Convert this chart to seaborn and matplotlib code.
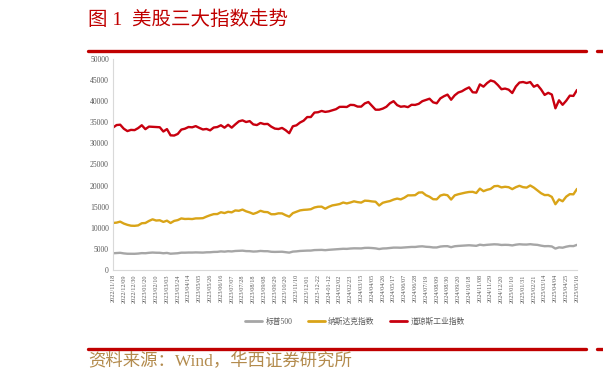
"""
美股三大指数走势 (周度收盘), 2022/11/18 - 2025/05/16
"""
import matplotlib
matplotlib.use("Agg")
import matplotlib.pyplot as plt
from matplotlib.lines import Line2D
import pandas as pd
import seaborn as sns

# 周度收盘价 (2024/09/27 一周缺失)
sp500 = [
    3965, 4026, 4072, 3934, 3852, 3845, 3840, 3895, 3999, 3973, 4071, 4136, 4090, 4079, 3970,
    4046, 3862, 3917, 3971, 4109, 4105, 4138, 4133, 4169, 4136, 4124, 4192, 4205, 4282, 4299,
    4410, 4348, 4450, 4399, 4505, 4536, 4582, 4478, 4464, 4370, 4406, 4515, 4457, 4450, 4320,
    4288, 4309, 4327, 4224, 4117, 4358, 4415, 4514, 4559, 4595, 4604, 4719, 4754, 4770, 4697,
    4784, 4840, 4891, 4959, 5027, 5006, 5089, 5137, 5124, 5117, 5234, 5254, 5204, 5123, 4967,
    5100, 5128, 5223, 5304, 5305, 5278, 5347, 5432, 5465, 5460, 5567, 5615, 5505, 5459, 5346,
    5344, 5554, 5634, 5648, 5408, 5626, 5703, 5751, 5815, 5864, 5808, 5729, 5996, 5871, 5969,
    6032, 6090, 6051, 5931, 5971, 5942, 5827, 5997, 6101, 6041, 6026, 6115, 6013, 5955, 5770,
    5639, 5668, 5581, 5074, 5363, 5283, 5525, 5687, 5660, 5958,
]
nasdaq = [
    11146, 11226, 11461, 11005, 10705, 10498, 10466, 10569, 11079, 11140, 11622, 12007, 11718,
    11787, 11395, 11689, 11138, 11631, 11824, 12222, 12088, 12123, 12072, 12227, 12235, 12284,
    12658, 12976, 13241, 13259, 13689, 13492, 13788, 13661, 14113, 14032, 14317, 13909, 13645,
    13291, 13590, 14031, 13762, 13708, 13212, 13219, 13431, 13407, 12984, 12643, 13478, 13798,
    14125, 14250, 14305, 14404, 14813, 14992, 15011, 14524, 14973, 15311, 15455, 15629, 15990,
    15776, 15997, 16275, 16085, 15973, 16429, 16379, 16249, 16175, 15282, 15928, 16156, 16341,
    16686, 16921, 16735, 17133, 17689, 17690, 17733, 18353, 18398, 17727, 17358, 16776, 16745,
    17631, 17878, 17714, 16691, 17684, 17948, 18138, 18343, 18490, 18519, 18240, 19287, 18680,
    19004, 19218, 19860, 19927, 19573, 19722, 19622, 19162, 19630, 19954, 19627, 19524, 20027,
    19524, 18847, 18197, 17754, 17784, 17323, 15588, 16724, 16286, 17383, 17978, 17929, 19211,
]
dow = [
    33746, 34347, 34430, 33476, 32920, 33204, 33147, 33631, 34303, 33375, 33978, 33926, 33869,
    33827, 32817, 33391, 31910, 31862, 32238, 33274, 33485, 33886, 33809, 34098, 33674, 33300,
    33427, 33093, 33762, 33877, 34299, 33727, 34408, 33734, 34509, 35228, 35459, 35066, 35281,
    34501, 34346, 34838, 34577, 34618, 33964, 33507, 33407, 33670, 33127, 32418, 34061, 34283,
    34947, 35390, 36245, 36247, 37305, 37385, 37690, 37466, 37593, 37863, 38109, 38654, 38671,
    38628, 39131, 39087, 38723, 38715, 39475, 39807, 38904, 37983, 37986, 38240, 38676, 39513,
    40004, 39070, 38686, 38799, 38589, 39150, 39119, 39376, 40001, 40288, 40589, 39737, 39498,
    40660, 41175, 41563, 40345, 41394, 42063, 42352, 42864, 43276, 42114, 42052, 43989, 43445,
    44297, 44911, 44643, 43828, 42840, 42992, 42732, 41938, 43488, 44424, 44545, 44303, 44546,
    43428, 43841, 42802, 41488, 41985, 41583, 38315, 40213, 39142, 40113, 41317, 41249, 42655,
]

tick_labels = [
    "2022/11/18", "2022/12/09", "2022/12/30", "2023/01/20", "2023/02/10", "2023/03/03",
    "2023/03/24", "2023/04/14", "2023/05/05", "2023/05/26", "2023/06/16", "2023/07/07",
    "2023/07/28", "2023/08/18", "2023/09/08", "2023/09/29", "2023/10/20", "2023/11/10",
    "2023/12/01", "2023-12-22", "2024-01-12", "2024/02/02", "2024/02/23", "2024/03/15",
    "2024/04/05", "2024/04/26", "2024/05/17", "2024/06/07", "2024/06/28", "2024/07/19",
    "2024/08/09", "2024/08/30", "2024/09/20", "2024/10/18", "2024/11/08", "2024/11/29",
    "2024/12/20", "2025/01/10", "2025/01/31", "2025/02/21", "2025/03/14", "2025/04/04",
    "2025/04/25", "2025/05/16",
]

series_names = ["标普500", "纳斯达克指数", "道琼斯工业指数"]
colors = ["#a6a6a6", "#d9a418", "#c8000f"]

# 长表
n = len(dow)
df = pd.concat([
    pd.DataFrame({"idx": range(n), "value": vals, "指数": name})
    for name, vals in zip(series_names, [sp500, nasdaq, dow])
])

sns.set_theme(style="white")
cjk = ["Liberation Serif", "Noto Sans CJK SC"]
plt.rcParams["font.family"] = cjk

fig = plt.figure(figsize=(6.03, 3.81), dpi=100)
ax = fig.add_axes([113 / 603, 1 - 270 / 381, (577 - 113) / 603, (270 - 59) / 381])

sns.lineplot(data=df, x="idx", y="value", hue="指数", palette=colors,
             linewidth=1.7, ax=ax, legend=False)

ax.set_xlim(0, n - 1)
ax.set_ylim(0, 50000)
ax.set_yticks(range(0, 50001, 5000))
ax.set_yticklabels([str(v) for v in range(0, 50001, 5000)], fontsize=5.5, color="#595959")
ax.set_xticks(range(0, n, 3))
ax.set_xticklabels(tick_labels, rotation=90, fontsize=4.4, color="#595959")
ax.tick_params(axis="both", length=0, pad=3)
ax.set_xlabel("")
ax.set_ylabel("")

for side in ["top", "right"]:
    ax.spines[side].set_visible(False)
for side in ["left", "bottom"]:
    ax.spines[side].set_color("#d9d9d9")
    ax.spines[side].set_linewidth(0.8)

# 图例
handles = [Line2D([0], [0], color=c, lw=2) for c in colors]
fig.legend(handles, series_names, loc="center", bbox_to_anchor=(355 / 603, 1 - 322 / 381),
           ncol=3, frameon=False, fontsize=5.6, handlelength=2.2, handletextpad=0.4,
           columnspacing=2.0, labelcolor="#595959")

# 标题 / 来源 / 红线
fig.text(88 / 603, 1 - 20 / 381, "图 1  美股三大指数走势", fontsize=14, color="#c00000",
         va="center", ha="left", family=cjk)
fig.add_artist(Line2D([88 / 603, 586 / 603], [1 - 51 / 381] * 2, color="#c00000", lw=2.4))
fig.add_artist(Line2D([597 / 603, 603 / 603], [1 - 51 / 381] * 2, color="#c00000", lw=2.4))
fig.add_artist(Line2D([88 / 603, 586 / 603], [1 - 349 / 381] * 2, color="#c00000", lw=2.4))
fig.add_artist(Line2D([597 / 603, 603 / 603], [1 - 349 / 381] * 2, color="#c00000", lw=2.4))
fig.text(88 / 603, 1 - 362 / 381, "资料来源：Wind，华西证券研究所", fontsize=12.5,
         color="#b38b4d", va="center", ha="left", family=cjk)

fig.savefig("out.png", dpi=100)
